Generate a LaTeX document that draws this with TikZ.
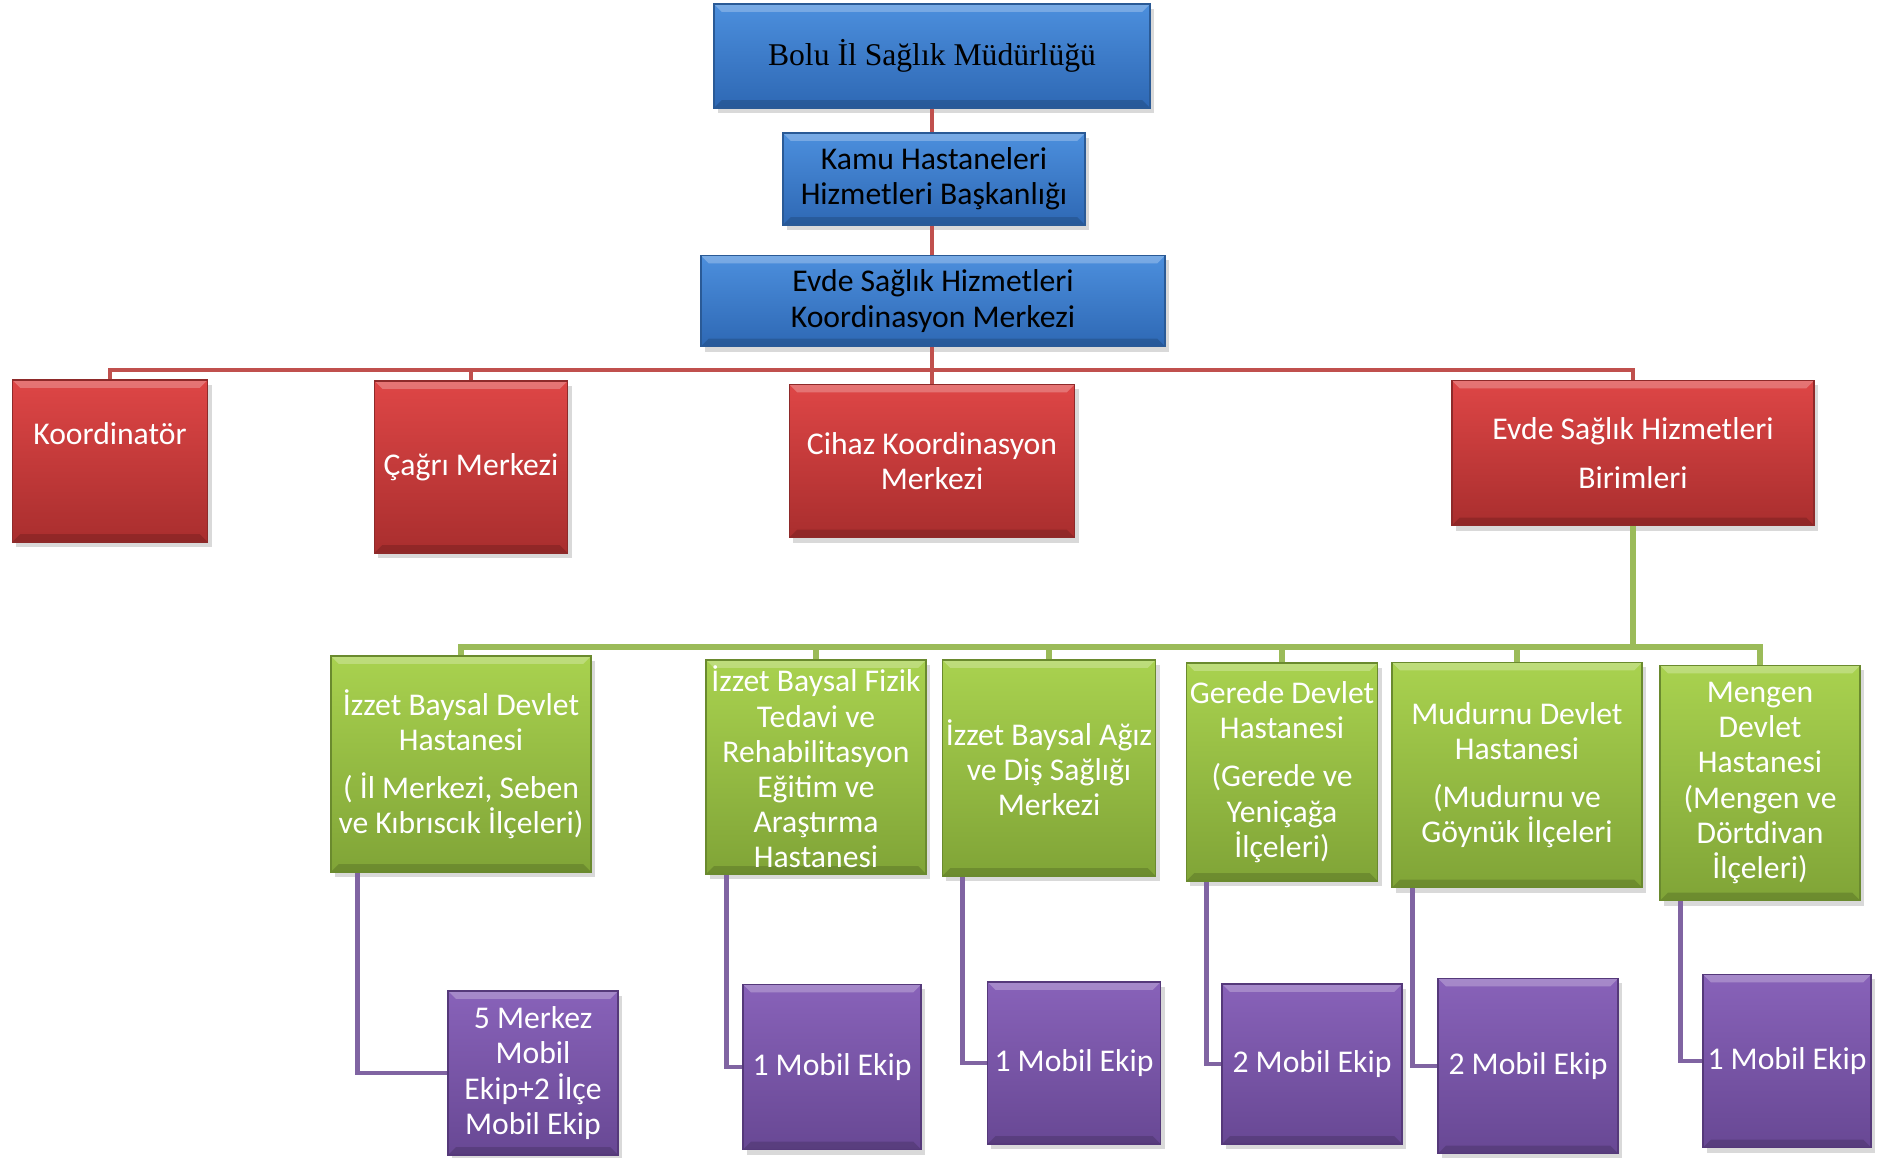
\documentclass[tikz,border=0pt]{standalone}
\usepackage{fontspec}
\setmainfont{Carlito}
\newfontfamily\titlefont{Liberation Serif}
\usetikzlibrary{shadows}

\definecolor{blueTop}{HTML}{4C8FDD}
\definecolor{blueBot}{HTML}{2E68B4}
\definecolor{blueEdge}{HTML}{2A5A96}
\definecolor{redTop}{HTML}{DE4646}
\definecolor{redBot}{HTML}{A92E2E}
\definecolor{redEdge}{HTML}{8E2A2A}
\definecolor{greenTop}{HTML}{A9D24F}
\definecolor{greenBot}{HTML}{80A437}
\definecolor{greenEdge}{HTML}{6A8A2E}
\definecolor{purpleTop}{HTML}{8862B9}
\definecolor{purpleBot}{HTML}{684894}
\definecolor{purpleEdge}{HTML}{55397A}
\definecolor{redLine}{HTML}{C0504D}
\definecolor{greenLine}{HTML}{9BBB59}
\definecolor{purpleLine}{HTML}{8064A2}

\begin{document}
\begin{tikzpicture}[
    x=0.01cm, y=-0.01cm,
    box/.style={
        rectangle, align=center, inner sep=1pt, thin,
        font=\fontsize{9}{10}\selectfont,
        drop shadow={shadow xshift=0.04cm, shadow yshift=-0.05cm, opacity=0.3},
        path picture={
            \fill[white, opacity=0.25] (path picture bounding box.north west)
                -- (path picture bounding box.north east)
                -- ([xshift=-0.08cm, yshift=-0.08cm]path picture bounding box.north east)
                -- ([xshift=0.08cm, yshift=-0.08cm]path picture bounding box.north west) -- cycle;
            \fill[black, opacity=0.15] (path picture bounding box.south west)
                -- (path picture bounding box.south east)
                -- ([xshift=-0.08cm, yshift=0.08cm]path picture bounding box.south east)
                -- ([xshift=0.08cm, yshift=0.08cm]path picture bounding box.south west) -- cycle;
        }
    },
    head/.style={box, top color=blueTop, bottom color=blueBot, draw=blueEdge, text=black},
    unit/.style={box, top color=redTop, bottom color=redBot, draw=redEdge, text=white},
    hosp/.style={box, top color=greenTop, bottom color=greenBot, draw=greenEdge, text=white},
    team/.style={box, top color=purpleTop, bottom color=purpleBot, draw=purpleEdge, text=white},
    redline/.style={draw=redLine, line width=1.4pt},
    greenline/.style={draw=greenLine, line width=1.7pt},
    purpleline/.style={draw=purpleLine, line width=1.4pt}
]

\useasboundingbox (0,0) rectangle (1890,1158);

% -------------------------
% Top (blue)
% -------------------------
\node[head, minimum width=4.36cm, minimum height=1.04cm, font=\titlefont\fontsize{9}{10}\selectfont]
    (Bolu) at (932,56) {Bolu İl Sağlık Müdürlüğü};
\node[head, minimum width=3.02cm, minimum height=0.92cm]
    (Kamu) at (934,179) {Kamu Hastaneleri\\Hizmetleri Başkanlığı};
\node[head, minimum width=4.64cm, minimum height=0.91cm]
    (EvdeK) at (933,301) {Evde Sağlık Hizmetleri\\Koordinasyon Merkezi};

% -------------------------
% Units (red)
% -------------------------
\node[unit, minimum width=1.95cm, minimum height=1.62cm, text depth=0.55cm]
    (Koord) at (110,461) {Koordinatör};
\node[unit, minimum width=1.93cm, minimum height=1.72cm]
    (Cagri) at (471,467) {Çağrı Merkezi};
\node[unit, minimum width=2.85cm, minimum height=1.53cm]
    (Cihaz) at (932,461) {Cihaz Koordinasyon\\Merkezi};
\node[unit, minimum width=3.62cm, minimum height=1.45cm]
    (EvdeB) at (1633,453) {Evde Sağlık Hizmetleri\\[0.14cm]Birimleri};

% -------------------------
% Hospitals (green)
% -------------------------
\node[hosp, minimum width=2.60cm, minimum height=2.16cm]
    (Hosp1) at (461,764) {İzzet Baysal Devlet\\Hastanesi\\[0.13cm]( İl Merkezi, Seben\\ve Kıbrıscık İlçeleri)};
\node[hosp, minimum width=2.20cm, minimum height=2.14cm]
    (Hosp2) at (816,767) {İzzet Baysal Fizik\\Tedavi ve\\Rehabilitasyon\\Eğitim ve\\Araştırma\\Hastanesi};
\node[hosp, minimum width=2.12cm, minimum height=2.16cm]
    (Hosp3) at (1049,768) {İzzet Baysal Ağız\\ve Diş Sağlığı\\Merkezi};
\node[hosp, minimum width=1.91cm, minimum height=2.18cm]
    (Hosp4) at (1282,772) {Gerede Devlet\\Hastanesi\\[0.13cm](Gerede ve\\Yeniçağa\\İlçeleri)};
\node[hosp, minimum width=2.50cm, minimum height=2.25cm]
    (Hosp5) at (1517,775) {Mudurnu Devlet\\Hastanesi\\[0.13cm](Mudurnu ve\\Göynük İlçeleri};
\node[hosp, minimum width=2.00cm, minimum height=2.35cm]
    (Hosp6) at (1760,783) {Mengen\\Devlet\\Hastanesi\\(Mengen ve\\Dörtdivan\\İlçeleri)};

% -------------------------
% Mobile teams (purple)
% -------------------------
\node[team, minimum width=1.70cm, minimum height=1.64cm]
    (Team1) at (533,1073) {5 Merkez\\Mobil\\Ekip+2 İlçe\\Mobil Ekip};
\node[team, minimum width=1.78cm, minimum height=1.65cm]
    (Team2) at (832,1067) {1 Mobil Ekip};
\node[team, minimum width=1.73cm, minimum height=1.62cm]
    (Team3) at (1074,1063) {1 Mobil Ekip};
\node[team, minimum width=1.80cm, minimum height=1.60cm]
    (Team4) at (1312,1064) {2 Mobil Ekip};
\node[team, minimum width=1.80cm, minimum height=1.75cm]
    (Team5) at (1528,1066) {2 Mobil Ekip};
\node[team, minimum width=1.68cm, minimum height=1.73cm]
    (Team6) at (1787,1061) {1 Mobil Ekip};

% -------------------------
% Connections
% -------------------------
\coordinate (redbus) at (932,370);
\coordinate (greenbus) at (1633,647);

% blue chain
\draw[redline] (Bolu.south) -- (Bolu.south |- Kamu.north);
\draw[redline] (Bolu.south |- Kamu.south) -- (Bolu.south |- EvdeK.north);
\draw[redline] (Bolu.south |- EvdeK.south) -- (redbus);

% red units
\draw[redline] (Koord.north) |- (redbus) -| (EvdeB.north);
\draw[redline] (Cagri.north) |- (redbus);
\draw[redline] (Cihaz.north) -- (redbus);

% hospitals
\draw[greenline] (EvdeB.south) -- (greenbus);
\draw[greenline] (Hosp1.north) |- (greenbus) -| (Hosp6.north);
\foreach \i in {2,...,5}
    \draw[greenline] (Hosp\i.north) |- (greenbus);

% teams
\draw[purpleline] ([xshift=0.27cm]Hosp1.south west) |- (Team1.west);
\foreach \i in {2,...,6}
    \draw[purpleline] ([xshift=0.21cm]Hosp\i.south west) |- (Team\i.west);

\end{tikzpicture}
\end{document}
